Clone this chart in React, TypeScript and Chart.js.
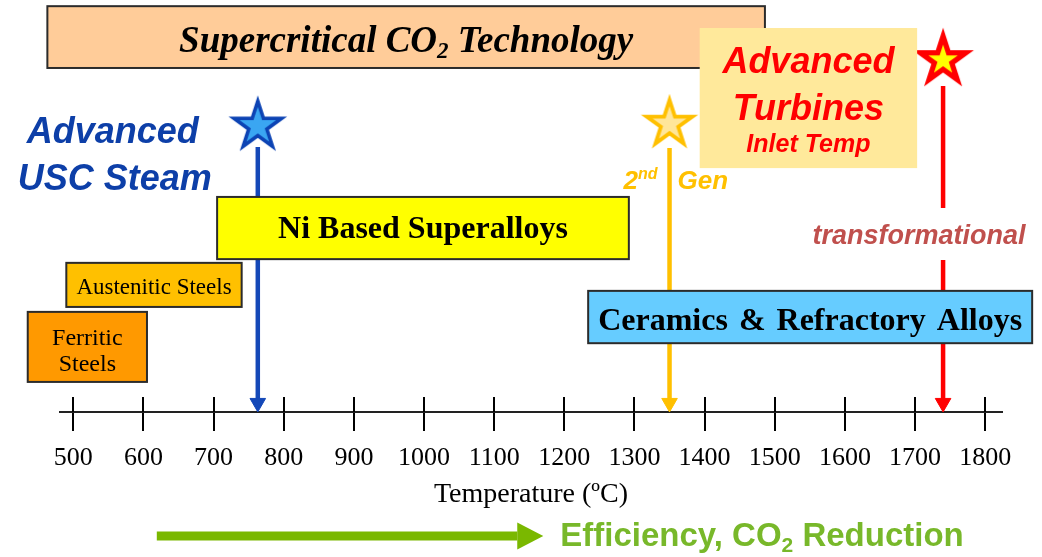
import React, { useEffect, useRef } from 'react';
import { Chart, registerables } from 'chart.js';

Chart.register(...registerables);

// ---------- DATA ----------
const TICK_VALUES = [500, 600, 700, 800, 900, 1000, 1100, 1200, 1300, 1400, 1500, 1600, 1700, 1800];
const AXIS_TITLE = 'Temperature (ºC)';

const BOX_LABELS = [
  'Supercritical CO2 Technology',
  'Advanced Turbines Inlet Temp',
  'Ni Based Superalloys',
  'Austenitic Steels',
  'Ferritic Steels',
  'Ceramics & Refractory Alloys',
];
const BOX_START = [463, 1393, 705, 490, 435, 1234];
const BOX_END = [1486, 1703, 1292, 740, 605, 1867];

const STAR_LABELS = ['Advanced USC Steam', '2nd Gen', 'transformational'];
const STAR_TEMPS = [763, 1350, 1740];

const EFFICIENCY_LABEL = 'Efficiency, CO2 Reduction';
const EFFICIENCY_RANGE = [619, 1170];

// ---------- LAYOUT / STYLE (vertical layout units 0..100 above the axis) ----------
const BOX_LAYOUT = [
  { top: 98.5, bottom: 83.5, fill: '#FFCC99', border: '#2b2b2b' },
  { top: 93.2, bottom: 59.2, fill: '#FFE99B', border: null },
  { top: 52.2, bottom: 37.1, fill: '#FFFF00', border: '#2b2b2b' },
  { top: 36.2, bottom: 25.5, fill: '#FFC000', border: '#2b2b2b' },
  { top: 24.3, bottom: 7.3, fill: '#FF9900', border: '#2b2b2b' },
  { top: 29.4, bottom: 16.7, fill: '#66CCFF', border: '#2b2b2b' },
];
const STAR_STYLE = [
  { y: 69.4, lineTop: 64.3, color: '#1448B8', fill: '#3AA6F2', stroke: '#0C43B4', p: 25, w: 3.6 },
  { y: 69.9, lineTop: 64.1, color: '#FFC000', fill: '#FFE69A', stroke: '#FFC000', p: 24, w: 3.8 },
  { y: 85.4, lineTop: 79.1, color: '#FF0000', fill: '#FFFF00', stroke: '#FF0000', p: 24, w: 5.2 },
];
const ARROW_TIP_Y = 2.2;
const RED_GAP = [49.5, 36.9];

function makeStar(p: number, w: number, fill: string, stroke: string) {
  const size = 80;
  const c = document.createElement('canvas');
  c.width = size;
  c.height = size;
  const ctx = c.getContext('2d')!;
  const cx = size / 2;
  const cy = size / 2;
  const inner = p * 0.382;
  ctx.beginPath();
  for (let i = 0; i < 10; i++) {
    const r = i % 2 === 0 ? p : inner;
    const a = -Math.PI / 2 + (i * Math.PI) / 5;
    const x = cx + r * Math.cos(a);
    const y = cy + r * Math.sin(a);
    if (i === 0) ctx.moveTo(x, y);
    else ctx.lineTo(x, y);
  }
  ctx.closePath();
  ctx.fillStyle = fill;
  ctx.fill();
  ctx.lineJoin = 'miter';
  ctx.miterLimit = 10;
  ctx.lineWidth = w;
  ctx.strokeStyle = stroke;
  ctx.stroke();
  return c;
}

type Seg = { text: string; font: string; dy?: number };
function drawRich(
  ctx: CanvasRenderingContext2D,
  segs: Seg[],
  x: number,
  y: number,
  align: 'left' | 'center' | 'right',
  wordSpacing = '0px'
) {
  (ctx as any).wordSpacing = wordSpacing;
  let total = 0;
  const widths = segs.map((s) => {
    ctx.font = s.font;
    const w = ctx.measureText(s.text).width;
    total += w;
    return w;
  });
  let cx = align === 'center' ? x - total / 2 : align === 'right' ? x - total : x;
  ctx.textAlign = 'left';
  ctx.textBaseline = 'middle';
  segs.forEach((s, i) => {
    ctx.font = s.font;
    ctx.fillText(s.text, cx, y + (s.dy || 0));
    cx += widths[i];
  });
  (ctx as any).wordSpacing = '0px';
}

const SERIF = '"Liberation Serif", "Times New Roman", serif';
const SANS = '"Liberation Sans", Arial, sans-serif';

const overlayPlugin = {
  id: 'overlay',
  afterDatasetsDraw(chart: any) {
    const ctx: CanvasRenderingContext2D = chart.ctx;
    const xs = chart.scales.x;
    const ys = chart.scales.y;
    ctx.save();
    // boxes
    BOX_LABELS.forEach((label, i) => {
      const L = BOX_LAYOUT[i];
      const x0 = xs.getPixelForValue(BOX_START[i]);
      const x1 = xs.getPixelForValue(BOX_END[i]);
      const y0 = ys.getPixelForValue(L.top);
      const y1 = ys.getPixelForValue(L.bottom);
      ctx.fillStyle = L.fill;
      ctx.fillRect(x0, y0, x1 - x0, y1 - y0);
      if (L.border) {
        ctx.lineWidth = 2;
        ctx.strokeStyle = L.border;
        ctx.strokeRect(x0, y0, x1 - x0, y1 - y0);
      }
      const cx = (x0 + x1) / 2;
      const cy = (y0 + y1) / 2;
      ctx.fillStyle = '#000';
      if (i === 0) {
        const f = `italic bold 37px ${SERIF}`;
        drawRich(ctx, [
          { text: 'Supercritical CO', font: f },
          { text: '2', font: `italic bold 23px ${SERIF}`, dy: 10 },
          { text: ' Technology', font: f },
        ], cx, cy + 5, 'center');
      } else if (i === 1) {
        ctx.fillStyle = '#FF0000';
        drawRich(ctx, [{ text: 'Advanced', font: `italic bold 36px ${SANS}` }], cx, y0 + 35, 'center');
        drawRich(ctx, [{ text: 'Turbines', font: `italic bold 36px ${SANS}` }], cx, y0 + 82, 'center');
        drawRich(ctx, [{ text: 'Inlet Temp', font: `italic bold 25px ${SANS}` }], cx, y0 + 117, 'center');
      } else if (i === 2) {
        drawRich(ctx, [{ text: label, font: `bold 32px ${SERIF}` }], cx, cy + 2, 'center');
      } else if (i === 3) {
        drawRich(ctx, [{ text: label, font: `23px ${SERIF}` }], cx, cy + 3, 'center');
      } else if (i === 4) {
        drawRich(ctx, [{ text: 'Ferritic', font: `24px ${SERIF}` }], cx, cy - 8, 'center');
        drawRich(ctx, [{ text: 'Steels', font: `24px ${SERIF}` }], cx, cy + 18, 'center');
      } else if (i === 5) {
        drawRich(ctx, [{ text: label, font: `bold 32px ${SERIF}` }], cx, cy + 5, 'center', '3px');
      }
    });

    // star labels
    const sx = STAR_TEMPS.map((t) => xs.getPixelForValue(t));
    const sy = STAR_STYLE.map((s) => ys.getPixelForValue(s.y));
    ctx.fillStyle = '#0D3FA8';
    drawRich(ctx, [{ text: 'Advanced', font: `italic bold 36px ${SANS}` }], sx[0] - 145, sy[0] + 7, 'center');
    drawRich(ctx, [{ text: 'USC Steam', font: `italic bold 36px ${SANS}` }], sx[0] - 143, sy[0] + 54, 'center');

    ctx.fillStyle = '#FFC000';
    drawRich(ctx, [
      { text: '2', font: `italic bold 26px ${SANS}` },
      { text: 'nd', font: `italic bold 16px ${SANS}`, dy: -7 },
    ], sx[1] - 12, sy[1] + 58, 'right');
    drawRich(ctx, [{ text: 'Gen', font: `italic bold 26px ${SANS}` }], sx[1] + 8, sy[1] + 58, 'left');

    ctx.fillStyle = '#C0504D';
    const gapMid = ys.getPixelForValue((RED_GAP[0] + RED_GAP[1]) / 2);
    drawRich(ctx, [{ text: STAR_LABELS[2], font: `italic bold 27px ${SANS}` }], sx[2] - 24, gapMid + 3, 'center');
    ctx.restore();
  },
  afterDraw(chart: any) {
    const ctx: CanvasRenderingContext2D = chart.ctx;
    const xs = chart.scales.x;
    const bottom = chart.chartArea.bottom;
    ctx.save();
    // upper half of the crossing tick marks
    ctx.strokeStyle = '#000';
    ctx.lineWidth = 2;
    xs.ticks.forEach((t: any) => {
      const px = Math.round(xs.getPixelForValue(t.value));
      ctx.beginPath();
      ctx.moveTo(px, bottom - 15);
      ctx.lineTo(px, bottom);
      ctx.stroke();
    });
    // efficiency arrow
    const gx0 = xs.getPixelForValue(EFFICIENCY_RANGE[0]);
    const gx1 = xs.getPixelForValue(EFFICIENCY_RANGE[1]);
    const gy = bottom + 124;
    ctx.fillStyle = '#7AB800';
    ctx.fillRect(gx0, gy - 4.5, gx1 - 26 - gx0, 9);
    ctx.beginPath();
    ctx.moveTo(gx1 - 26, gy - 13.5);
    ctx.lineTo(gx1, gy);
    ctx.lineTo(gx1 - 26, gy + 13.5);
    ctx.closePath();
    ctx.fill();
    ctx.fillStyle = '#78B82A';
    const f = `bold 33px ${SANS}`;
    drawRich(ctx, [
      { text: 'Efficiency, CO', font: f },
      { text: '2', font: `bold 21px ${SANS}`, dy: 9 },
      { text: ' Reduction', font: f },
    ], gx1 + 17, gy + 1, 'left');
    ctx.restore();
  },
};

export default function App() {
  const ref = useRef<HTMLCanvasElement>(null);
  useEffect(() => {
    if (!ref.current) return;
    const stars = STAR_STYLE.map((s) => makeStar(s.p, s.w, s.fill, s.stroke));
    const lineSets = STAR_TEMPS.map((t, i) => {
      const s = STAR_STYLE[i];
      const pts =
        i === 2
          ? [
              { x: t, y: s.lineTop },
              { x: t, y: RED_GAP[0] },
              { x: t, y: null },
              { x: t, y: RED_GAP[1] },
              { x: t, y: ARROW_TIP_Y },
            ]
          : [
              { x: t, y: s.lineTop },
              { x: t, y: ARROW_TIP_Y },
            ];
      return {
        type: 'line' as const,
        label: STAR_LABELS[i],
        data: pts,
        borderColor: s.color,
        borderWidth: 4.5,
        pointStyle: 'triangle',
        pointRotation: 180,
        pointRadius: pts.map((_, k) => (k === pts.length - 1 ? 9 : 0)),
        pointBackgroundColor: s.color,
        pointBorderColor: s.color,
        pointBorderWidth: 1,
        spanGaps: false,
        clip: false as any,
      };
    });
    const chart = new Chart(ref.current, {
      type: 'scatter',
      data: {
        datasets: [
          {
            type: 'scatter',
            label: 'stars',
            data: STAR_TEMPS.map((t, i) => ({ x: t, y: STAR_STYLE[i].y })),
            pointStyle: stars as any,
            pointRadius: 30,
            clip: false as any,
          },
          ...lineSets,
        ] as any,
      },
      options: {
        animation: false,
        responsive: false,
        layout: { autoPadding: false, padding: { left: 60, right: 40, top: 0, bottom: 54 } },
        plugins: { legend: { display: false }, tooltip: { enabled: false } },
        scales: {
          x: {
            type: 'linear',
            min: 481,
            max: 1824,
            afterBuildTicks: (axis: any) => {
              axis.ticks = TICK_VALUES.map((v) => ({ value: v }));
            },
            grid: { display: true, drawOnChartArea: false, drawTicks: true, tickLength: 19, color: '#000', lineWidth: 2 },
            border: { display: true, color: '#222', width: 2 },
            ticks: {
              font: { family: 'Liberation Serif', size: 26 },
              color: '#000',
              padding: 12,
              maxRotation: 0,
              autoSkip: false,
              callback: (v: any) => String(v),
            },
            title: {
              display: true,
              text: AXIS_TITLE,
              font: { family: 'Liberation Serif', size: 28, lineHeight: 0.6 },
              color: '#000',
              padding: { top: 0, bottom: 0 },
            },
          },
          y: { type: 'linear', min: 0, max: 100, display: false },
        },
      },
      plugins: [overlayPlugin],
    });
    return () => chart.destroy();
  }, []);
  return (
    <div style={{ position: 'fixed', left: 0, top: 0, width: 1042, height: 557, background: '#fff' }}>
      <canvas ref={ref} width={1042} height={557} style={{ display: 'block' }} />
    </div>
  );
}
